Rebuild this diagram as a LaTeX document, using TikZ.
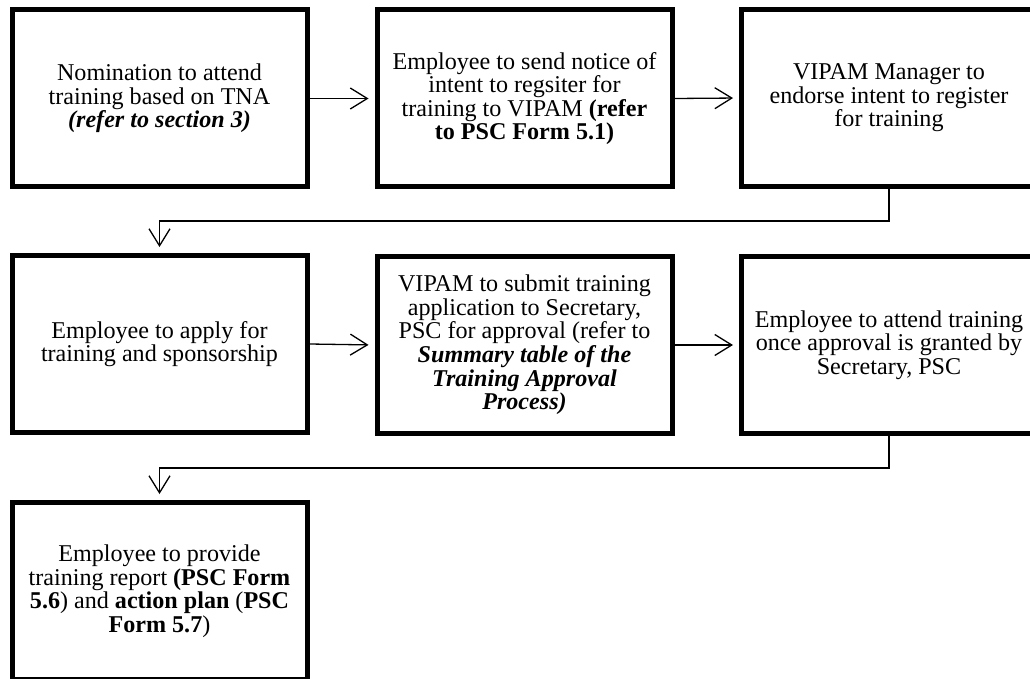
\documentclass[tikz,border=0pt]{standalone}
\usepackage{fontspec}
\setmainfont{Liberation Serif}
\usetikzlibrary{arrows.meta}
\tikzset{
  stepbox/.style={draw=black, line width=5pt, fill=white, inner sep=0pt,
    minimum width=295pt, minimum height=177pt, align=center,
    font=\fontsize{24.1}{23.6}\selectfont},
  flow/.style={line width=1.3pt, -{Straight Barb[length=17pt,width=21pt,line width=1.3pt]}, shorten >=6pt}
}
\begin{document}
\begin{tikzpicture}[x=1pt,y=-1pt]
\useasboundingbox (0,0) rectangle (1030,679);
\clip (0,0) rectangle (1030,679);
\node[stepbox] (b1) at (159.5,98.5) {Nomination to attend\\training based on TNA\\\textbf{\textit{(refer to section 3)}}};
\node[stepbox] (b2) at (524.5,98.5) {Employee to send notice of\\intent to regsiter for\\training to VIPAM \textbf{(refer}\\\textbf{to PSC Form 5.1)}};
\node[stepbox] (b3) at (889,98) {VIPAM Manager to\\endorse intent to register\\for training};
\node[stepbox] (b4) at (159.5,344) {Employee to apply for\\training and sponsorship};
\node[stepbox] (b5) at (524.5,345) {VIPAM to submit training\\application to Secretary,\\PSC for approval (refer to\\\textbf{\textit{Summary table of the}}\\\textbf{\textit{Training Approval}}\\\textbf{\textit{Process)}}};
\node[stepbox] (b6) at (889,345) {Employee to attend training\\once approval is granted by\\Secretary, PSC};
\node[stepbox] (b7) at (159.5,591) {Employee to provide\\training report \textbf{(PSC Form}\\\textbf{5.6}) and \textbf{action plan} (\textbf{PSC}\\\textbf{Form 5.7})};
\coordinate (j1) at (889,221);
\coordinate (j2) at (889,468);
\draw[flow] (b1.east) -- (b2.west);
\draw[flow] (b2.east) -- (b3.west);
\draw[flow] (b3.south) -- (j1) -- (b4.north |- j1) -- (b4.north);
\draw[flow] (b4.east) -- (b5.west);
\draw[flow] (b5.east) -- (b6.west);
\draw[flow] (b6.south) -- (j2) -- (b7.north |- j2) -- (b7.north);
\end{tikzpicture}
\end{document}
